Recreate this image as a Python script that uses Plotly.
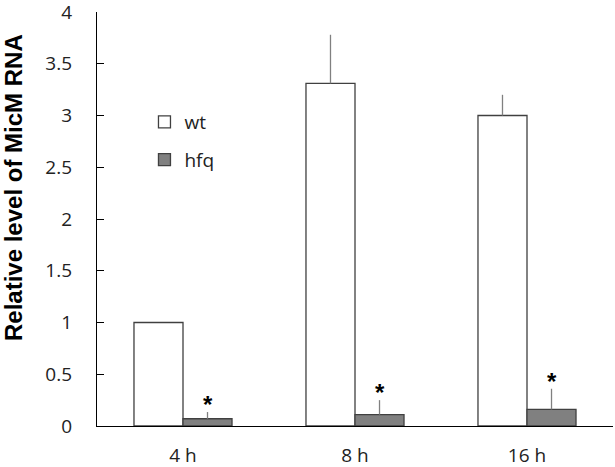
import plotly.graph_objects as go

# Datos
TIEMPOS = ["4 h", "8 h", "16 h"]
WT = [1.0, 3.31, 3.0]
WT_ERR = [0.0, 0.47, 0.2]
HFQ = [0.07, 0.11, 0.16]
HFQ_ERR = [0.065, 0.14, 0.2]
SIGNIF = ["*", "*", "*"]

BORDE = "#404040"
GRIS = "#808080"
FUENTE = "Open Sans, Liberation Sans, sans-serif"

fig = go.Figure()
fig.add_trace(go.Bar(
    x=TIEMPOS, y=WT, name="wt", legendgroup="wt",
    marker=dict(color="white", line=dict(color=BORDE, width=1.3)),
    error_y=dict(type="data", array=WT_ERR, arrayminus=[0, 0, 0], symmetric=False,
                 color=GRIS, thickness=1.3, width=0),
))
fig.add_trace(go.Bar(
    x=TIEMPOS, y=HFQ, name="hfq", legendgroup="hfq",
    marker=dict(color=GRIS, line=dict(color=BORDE, width=1.3)),
    error_y=dict(type="data", array=HFQ_ERR, arrayminus=[0, 0, 0], symmetric=False,
                 color=GRIS, thickness=1.3, width=0),
))

# Asteriscos de significancia sobre las barras hfq
for t, v, e, s in zip(TIEMPOS, HFQ, HFQ_ERR, SIGNIF):
    fig.add_annotation(x=t, y=v + e, text=f"<b>{s}</b>", showarrow=False,
                       xref="x", yref="y", xshift=24.5, yanchor="bottom", yshift=-8,
                       font=dict(size=24, color="black", family="Liberation Sans"))

# título del eje Y como anotación (va algo desplazado hacia arriba en el original)
fig.add_annotation(x=-0.163, y=0.577, xref="paper", yref="paper",
                   text="<b>Relative level of MicM RNA</b>", textangle=-90,
                   showarrow=False, xanchor="center", yanchor="middle",
                   font=dict(family="Liberation Sans", size=24, color="black"))

fig.update_layout(
    width=615, height=467,
    barmode="group", bargap=0.43, bargroupgap=0,
    plot_bgcolor="white", paper_bgcolor="white",
    font=dict(family=FUENTE, size=19, color="#222222"),
    margin=dict(l=97, r=2, t=12, b=41, autoexpand=False),
    showlegend=True,
    legend=dict(x=0.092, y=0.78, xanchor="left", yanchor="top",
                bgcolor="rgba(0,0,0,0)", font=dict(size=19),
                itemwidth=30, tracegroupgap=10),
)
fig.update_yaxes(
    range=[0, 4], dtick=0.5, showgrid=False, zeroline=False,
    showline=True, linecolor="black", linewidth=1.3,
    ticks="inside", ticklen=7, tickcolor="black",
    ticklabelstandoff=20, automargin=False, ticklabeloverflow="allow",
)
fig.update_xaxes(
    showgrid=False, showline=True, linecolor="black", linewidth=1.3,
    ticks="", ticklabelstandoff=12, automargin=False,
)

# sin el margen de 8 px que el navegador pone al body
fig.write_html("out.html", config={"displayModeBar": False},
               post_script="document.body.style.margin = '0';")
